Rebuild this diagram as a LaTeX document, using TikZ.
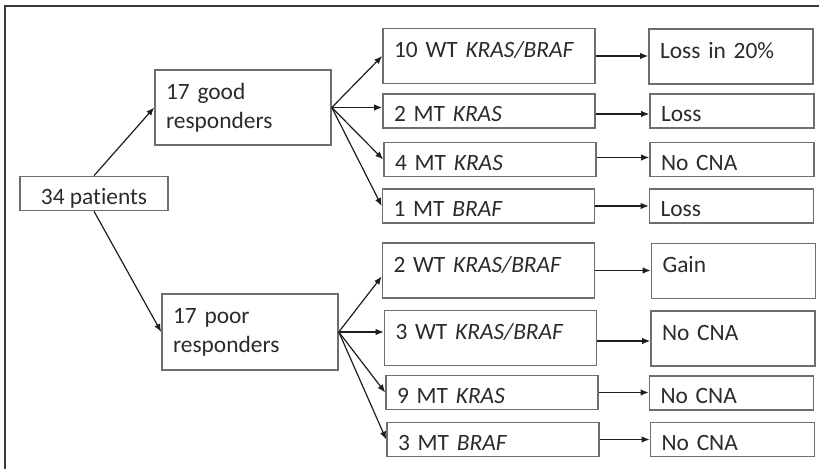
\documentclass[tikz,border=0pt]{standalone}
\usepackage{fontspec}
\setmainfont{Carlito}[Ligatures=NoCommon]
\usetikzlibrary{arrows.meta}
\definecolor{ink}{HTML}{2B2B2B}
\definecolor{frameline}{HTML}{3A3A3A}
\definecolor{boxline}{HTML}{6E6E6E}
\definecolor{arrowcol}{HTML}{1E1E1E}

\begin{document}
\begin{tikzpicture}[
  x=0.5pt, y=-0.5pt,
  box/.style={
    draw=boxline, line width=0.8pt, inner xsep=5.5pt, inner ysep=0pt,
    align=left, text=ink, font=\fontsize{11.7}{14.5}\selectfont
  },
  lowbox/.style={box, minimum height=17pt, text height=11pt, text depth=0pt},
  tallbox/.style={box, minimum height=27.5pt, text height=9pt, text depth=7pt},
  midcol/.style={text width=95pt},
  endcol/.style={text width=71pt},
  flow/.style={-{Latex[length=4pt,width=3.2pt]}, line width=0.6pt, draw=arrowcol}
]
\useasboundingbox (0,0) rectangle (819,469);

%% ---------- frame ----------
\draw[frameline, line width=1pt] (5,469) -- (5,6) -- (819,6);

%% ---------- root and groups ----------
\node[lowbox, align=center, minimum width=74pt] (pat) at (94,193.5) {34 patients};
\node[box, text width=77pt, minimum height=37.5pt] (good) at (243,107.5)
  {17 good\\responders};
\node[box, text width=77pt, minimum height=38pt] (poor) at (250,332)
  {17 poor\\responders};

%% ---------- good responders ----------
\node[tallbox, midcol] (wt10) at (489,56)    {10 WT \textit{KRAS/BRAF}};
\node[lowbox, midcol]  (mtk2) at (489,111)   {2 MT \textit{KRAS}};
\node[lowbox, midcol]  (mtk4) at (490,159.5) {4 MT \textit{KRAS}};
\node[lowbox, midcol]  (mtb1) at (488.5,206) {1 MT \textit{BRAF}};

\node[tallbox, endcol] (loss20) at (731,56.5)  {Loss in 20\%};
\node[lowbox, endcol]  (lossa)  at (732,111)   {Loss};
\node[lowbox, endcol]  (nocnaa) at (732,159.5) {No CNA};
\node[lowbox, endcol]  (lossb)  at (731.5,206) {Loss};

%% ---------- poor responders ----------
\node[tallbox, midcol] (wt2)  at (488.5,270.5) {2 WT \textit{KRAS/BRAF}};
\node[tallbox, midcol] (wt3)  at (490.5,338)   {3 WT \textit{KRAS/BRAF}};
\node[lowbox, midcol]  (mtk9) at (492,392.5)   {9 MT \textit{KRAS}};
\node[lowbox, midcol]  (mtb3) at (493,439.5)   {3 MT \textit{BRAF}};

\node[tallbox, endcol] (gain)   at (733.5,271)   {Gain};
\node[tallbox, endcol] (nocnab) at (733,338.5)   {No CNA};
\node[lowbox, endcol]  (nocnac) at (731.5,393)   {No CNA};
\node[lowbox, endcol]  (nocnad) at (732.5,439.5) {No CNA};

%% ---------- split ----------
\draw[flow] (pat.north) -- (good.west);
\draw[flow] (pat.south) -- (poor.west);

%% ---------- good fan ----------
\draw[flow] (good.east) -- (wt10.west);
\draw[flow] (good.east) -- (good.east -| mtk2.west);
\draw[flow] (good.east) -- (mtk4.west);
\draw[flow] (good.east) -- (mtb1.west);

\draw[flow] (wt10.east) -- (wt10.east -| loss20.west);
\draw[flow] ([yshift=-1.5pt]mtk2.east) -- ([yshift=-1.5pt]mtk2.east -| lossa.west);
\draw[flow] ([yshift=1pt]mtk4.east) -- ([yshift=1pt]mtk4.east -| nocnaa.west);
\draw[flow] (mtb1.east) -- (mtb1.east -| lossb.west);

%% ---------- poor fan ----------
\draw[flow] (poor.east) -- ([yshift=-3pt]wt2.west);
\draw[flow] (poor.east) -- (poor.east -| wt3.west);
\draw[flow] (poor.east) -- (mtk9.west);
\draw[flow] (poor.east) -- (mtb3.west);

\draw[flow] (wt2.east) -- (wt2.east -| gain.west);
\draw[flow] ([yshift=-1.5pt]wt3.east) -- ([yshift=-1.5pt]wt3.east -| nocnab.west);
\draw[flow] (mtk9.east) -- (mtk9.east -| nocnac.west);
\draw[flow] (mtb3.east) -- (mtb3.east -| nocnad.west);

\end{tikzpicture}
\end{document}
